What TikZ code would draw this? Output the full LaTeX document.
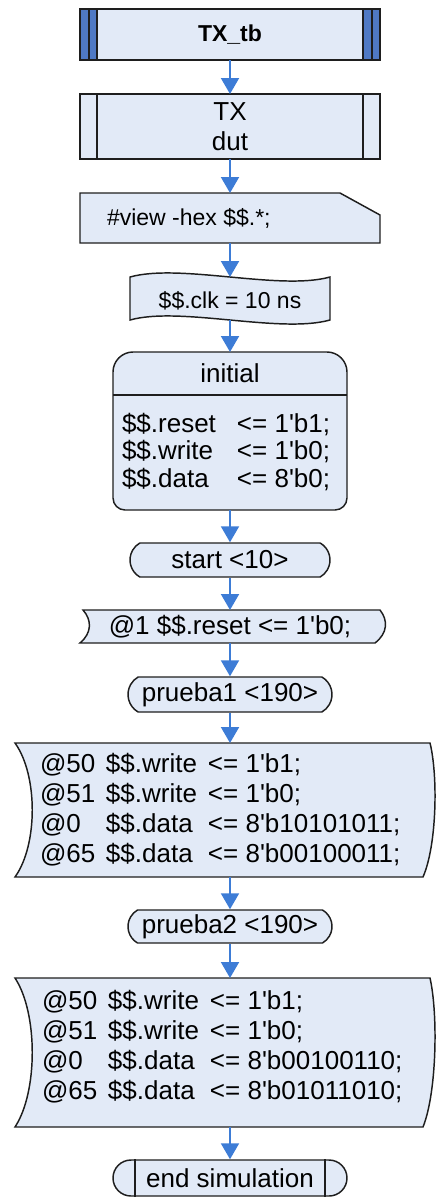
\documentclass[tikz,border=0pt]{standalone}
\usepackage{fontspec}
\setmainfont{Liberation Sans}
\usetikzlibrary{arrows.meta,calc,shapes.misc}
\definecolor{boxfill}{HTML}{E2EAF7}
\definecolor{edge}{HTML}{1E1E1E}
\definecolor{stripe}{HTML}{4F79C4}
\definecolor{flowblue}{HTML}{3D7CD6}
\newcommand\sq{\textquotesingle}
\newcommand\bigtxt{\fontsize{19.5}{22.5}\selectfont}
\newcommand\midtxt{\fontsize{17.25}{20}\selectfont}
\newcommand\colA[1]{\makebox[49.5pt][l]{#1}}
\newcommand\colB[1]{\makebox[76.5pt][l]{#1}}
\newcommand\colI[1]{\makebox[86.25pt][l]{#1}}

\begin{document}
\begin{tikzpicture}[x=0.75pt,y=-0.75pt,
  outline/.style={draw=edge, fill=boxfill, line width=1.1pt},
  holder/.style={inner sep=0pt, outer sep=0pt},
  txt/.style={inner sep=0pt, outer sep=0pt, font=\bigtxt},
  flow/.style={draw=flowblue, line width=1.5pt, -{Triangle[width=13.5pt,length=12pt,fill=flowblue]}},
  pill/.style={outline, rounded rectangle, rounded rectangle arc length=120, inner sep=0pt, font=\bigtxt},
]
\useasboundingbox (0,0) rectangle (436,1200);

% test bench header with double bars on both ends
\node[outline, holder, minimum width=225pt, minimum height=38.25pt,
      font=\midtxt\bfseries] (tb) at (230,34.5) {TX\_tb};
\filldraw[draw=edge, fill=stripe, line width=1.1pt]
  (tb.north west) rectangle ($(tb.south west)+(17,0)$);
\draw[draw=edge, line width=1.1pt] ($(tb.north west)+(9,0)$) -- ($(tb.south west)+(9,0)$);
\filldraw[draw=edge, fill=stripe, line width=1.1pt]
  (tb.north east) rectangle ($(tb.south east)+(-17,0)$);
\draw[draw=edge, line width=1.1pt] ($(tb.north east)+(-8,0)$) -- ($(tb.south east)+(-8,0)$);

% device under test (predefined process)
\node[outline, holder, minimum width=225pt, minimum height=48.75pt,
      align=center, font=\bigtxt] (dut) at (230,126.5) {TX\\dut};
\draw[draw=edge, line width=1.1pt] ($(dut.north west)+(17,0)$) -- ($(dut.south west)+(17,0)$);
\draw[draw=edge, line width=1.1pt] ($(dut.north east)+(-17,0)$) -- ($(dut.south east)+(-17,0)$);

% directive card
\node[holder, minimum width=225pt, minimum height=37.5pt] (view) at (230,218) {};
\filldraw[outline] (view.north west) -- ($(view.north east)+(-40,0)$)
  -- ($(view.north east)+(0,22)$) -- (view.south east) -- (view.south west) -- cycle;
\node[txt, font=\midtxt, anchor=west] (viewtxt) at (107,218) {\#view -hex \$\$.*;};

% clock tape
\node[holder, minimum width=150pt, minimum height=32.25pt] (clk) at (230,298.5) {};
\filldraw[outline] (130,277) .. controls (180,263) and (280,291) .. (330,277)
  -- (330,320) .. controls (280,334) and (180,306) .. (130,320) -- cycle;
\node[txt, font=\midtxt] (clktxt) at (230,301) {\$\$.clk = 10 ns};

% initial block
\node[holder, minimum width=175.5pt, minimum height=118.5pt] (init) at (230,431) {};
\filldraw[outline] (113,372) -- (113,498) .. controls (113,504.6) and (118.4,510) .. (125,510)
  -- (335,510) .. controls (341.6,510) and (347,504.6) .. (347,498)
  -- (347,372) .. controls (347,361) and (338,352) .. (327,352)
  -- (133,352) .. controls (122,352) and (113,361) .. (113,372) -- cycle;
\draw[draw=edge, line width=1.1pt] (init.west |- 0,395) -- (init.east |- 0,395);
\node[txt] (inittitle) at (230,373) {initial};
\node[txt, anchor=west, align=left, font=\fontsize{19.5}{20.6}\selectfont] (initbody) at (122,452)
  {\colI{\$\$.reset}<= 1\sq b1;\\
   \colI{\$\$.write}<= 1\sq b0;\\
   \colI{\$\$.data}<= 8\sq b0;};

% start marker
\node[pill, minimum width=150pt, minimum height=25.5pt] (start) at (230,560) {start <10>};

% reset release
\node[holder, minimum width=225pt, minimum height=24.75pt] (rst) at (230,626.5) {};
\filldraw[outline] (83,610) -- (380,610) .. controls (388,620) and (388,633) .. (375,643)
  -- (80,643) .. controls (92,633) and (92,620) .. (83,610) -- cycle;
\node[txt] (rsttxt) at (230,627) {@1 \$\$.reset <= 1\sq b0;};

% first test
\node[pill, minimum width=153pt, minimum height=26.25pt] (p1) at (230,694.5) {prueba1 <190>};

\node[holder, minimum width=300pt, minimum height=100.5pt] (b1) at (230,810) {};
\filldraw[outline] (15,743) -- (430,743) .. controls (438,775) and (437,845) .. (423,877)
  -- (15,877) .. controls (38,845) and (38,775) .. (15,743) -- cycle;
\node[txt, anchor=west, align=left] (b1txt) at (40,810)
  {\colA{@50}\colB{\$\$.write}<= 1\sq b1;\\
   \colA{@51}\colB{\$\$.write}<= 1\sq b0;\\
   \colA{@0}\colB{\$\$.data}<= 8\sq b10101011;\\
   \colA{@65}\colB{\$\$.data}<= 8\sq b00100011;};

% second test
\node[pill, minimum width=153pt, minimum height=24.75pt] (p2) at (230,926.5) {prueba2 <190>};

\node[holder, minimum width=300pt, minimum height=111.75pt] (b2) at (230,1052.5) {};
\filldraw[outline] (15,978) -- (430,978) .. controls (438,1013) and (437,1092) .. (423,1127)
  -- (15,1127) .. controls (38,1092) and (38,1013) .. (15,978) -- cycle;
\node[txt, anchor=west, align=left] (b2txt) at (42,1047)
  {\colA{@50}\colB{\$\$.write}<= 1\sq b1;\\
   \colA{@51}\colB{\$\$.write}<= 1\sq b0;\\
   \colA{@0}\colB{\$\$.data}<= 8\sq b00100110;\\
   \colA{@65}\colB{\$\$.data}<= 8\sq b01011010;};

% end of simulation
\node[outline, rounded rectangle, inner sep=0pt, minimum width=175.5pt, minimum height=27pt,
      font=\bigtxt] (fin) at (230,1178) {end simulation};
\draw[draw=edge, line width=1.1pt] ($(fin.north)+(-95,0)$) -- ($(fin.south)+(-95,0)$);
\draw[draw=edge, line width=1.1pt] ($(fin.north)+(95,0)$) -- ($(fin.south)+(95,0)$);

% flow connectors
\draw[flow] (tb.south) -- (dut.north);
\draw[flow] (dut.south) -- (view.north);
\draw[flow] (view.south) -- (clk.north);
\draw[flow] (clk.south) -- (init.north);
\draw[flow] (init.south) -- (start.north);
\draw[flow] (start.south) -- (rst.north);
\draw[flow] (rst.south) -- (p1.north);
\draw[flow] (p1.south) -- (b1.north);
\draw[flow] (b1.south) -- (p2.north);
\draw[flow] (p2.south) -- (b2.north);
\draw[flow] (b2.south) -- (fin.north);
\end{tikzpicture}
\end{document}
